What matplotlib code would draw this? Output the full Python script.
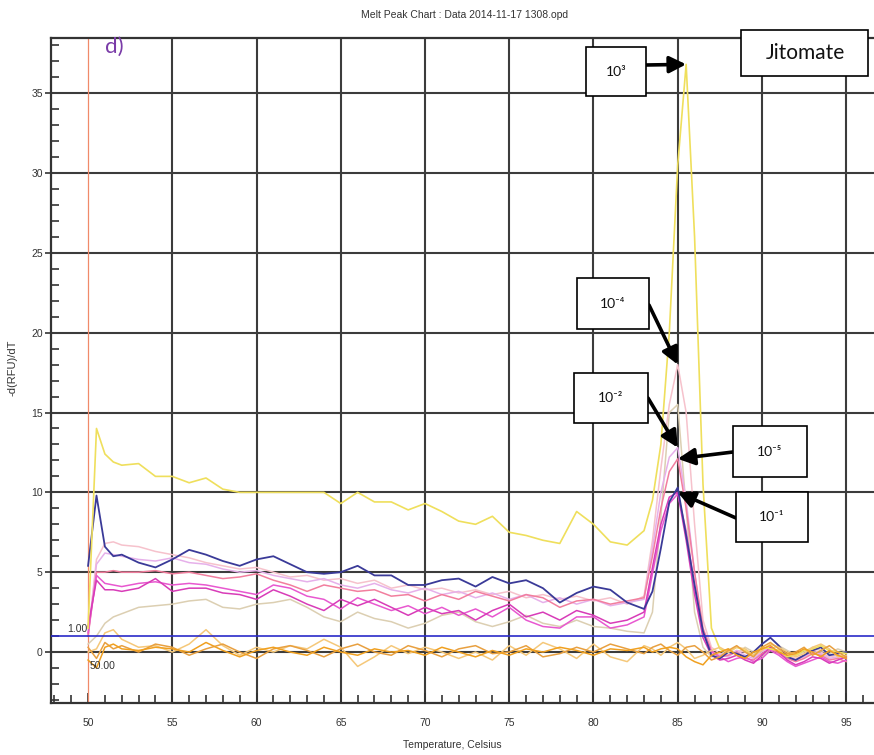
import matplotlib
matplotlib.use('Agg')
import matplotlib.pyplot as plt
from matplotlib.patches import Rectangle
from matplotlib.ticker import MultipleLocator

plt.rcParams['font.family'] = ['Liberation Sans Narrow', 'Liberation Sans', 'DejaVu Sans']

# temperature grid (Celsius)
temps = [50, 50.5, 51, 51.5, 52,
         53, 54, 55, 56, 57, 58, 59, 60, 61, 62,
         63, 64, 65, 66, 67, 68, 69, 70, 71, 72,
         73, 74, 75, 76, 77, 78, 79, 80, 81, 82,
         83,
         83.5, 84, 84.5, 85, 85.5, 86, 86.5, 87, 87.5,
         88, 88.5, 89, 89.5, 90, 90.5, 91, 91.5, 92, 92.5, 93, 93.5, 94, 94.5, 95]

# -d(RFU)/dT for each sample
yellow = [1.5, 14.0, 12.4, 11.9, 11.7,
          11.8, 11.0, 11.0, 10.6, 10.9, 10.2, 10.0, 10.0, 10.0, 10.0,
          10.0, 10.0, 9.3, 10.0, 9.4, 9.4, 8.9, 9.3, 8.8, 8.2,
          8.0, 8.5, 7.5, 7.3, 7.0, 6.8, 8.8, 8.0, 6.9, 6.7,
          7.6,
          9.5, 13.0, 20.0, 30.5, 36.8, 26.0, 10.5, 1.5, 0.2,
          0.0, 0.3, 0.1, -0.2, 0.3, 0.2, 0.1, -0.3, -0.2, 0.1, 0.2, 0.4, 0.1, 0.0, -0.1]
blue = [5.4, 9.8, 6.6, 6.0, 6.1,
        5.6, 5.3, 5.8, 6.4, 6.1, 5.7, 5.4, 5.8, 6.0, 5.5,
        5.0, 4.9, 5.0, 5.4, 4.8, 4.8, 4.2, 4.2, 4.5, 4.6,
        4.1, 4.7, 4.3, 4.5, 4.0, 3.1, 3.7, 4.1, 3.9, 3.1,
        2.7,
        3.8, 6.5, 9.4, 10.3, 7.3, 4.2, 1.3, -0.2, -0.4,
        0.0, -0.1, -0.3, 0.0, 0.5, 0.9, 0.4, -0.3, -0.5, -0.2, 0.1, 0.3, -0.2, -0.1, 0.0]
magenta_a = [1.6, 4.5, 3.9, 3.9, 3.8,
             4.0, 4.6, 3.8, 4.0, 4.0, 3.7, 3.6, 3.3, 3.9, 3.5,
             3.0, 2.6, 3.3, 2.9, 3.3, 2.8, 2.3, 2.8, 2.4, 2.6,
             2.0, 2.6, 3.0, 2.2, 2.5, 2.0, 2.6, 2.3, 1.8, 2.0,
             2.5,
             5.3, 8.0, 9.7, 10.0, 7.0, 3.6, 0.9, -0.2, -0.5,
             -0.4, -0.2, -0.5, -0.7, -0.2, 0.3, 0.0, -0.5, -0.8, -0.6, -0.3, -0.4, -0.7, -0.5, -0.3]
magenta_b = [1.2, 4.8, 4.3, 4.2, 4.1,
             4.3, 4.4, 4.2, 4.3, 4.2, 4.0, 3.8, 3.6, 4.2, 4.0,
             3.5, 3.3, 2.7, 3.4, 3.0, 2.6, 2.9, 2.4, 2.8, 2.3,
             2.7, 2.2, 2.8, 2.0, 1.6, 1.5, 2.2, 2.2, 1.5, 1.7,
             2.2,
             4.9, 7.6, 9.3, 9.9, 7.6, 4.1, 1.2, 0.0, -0.3,
             -0.6, -0.4, -0.3, -0.6, -0.4, 0.1, -0.2, -0.6, -0.9, -0.7, -0.5, -0.3, -0.6, -0.7, -0.5]
pink = [1.0, 5.0, 5.0, 5.1, 5.0,
        5.0, 5.1, 4.9, 5.0, 4.8, 4.6, 4.7, 4.9, 4.5, 4.2,
        3.8, 4.2, 4.0, 3.8, 3.9, 3.5, 3.6, 3.2, 3.6, 3.3,
        3.8, 3.5, 3.2, 3.6, 3.4, 2.8, 3.2, 3.3, 3.0, 3.2,
        3.4,
        6.0, 9.0, 11.3, 12.1, 9.0, 5.0, 1.5, 0.1, -0.3,
        -0.2, 0.0, -0.4, -0.5, -0.1, 0.2, -0.1, -0.4, -0.6, -0.4, -0.1, -0.2, -0.5, -0.4, -0.6]
violet = [1.0, 5.5, 6.2, 6.1, 6.0,
          5.8, 5.7, 5.9, 5.6, 5.5, 5.2, 5.0, 5.1, 4.8, 4.6,
          4.4, 4.6, 4.2, 4.0, 4.3, 3.9, 3.7, 4.0, 3.6, 3.8,
          3.4, 3.7, 3.3, 3.6, 3.1, 3.4, 3.0, 3.3, 2.9, 3.1,
          3.3,
          6.5, 10.0, 12.2, 12.8, 9.5, 5.0, 1.2, 0.0, -0.2,
          -0.3, 0.1, -0.2, -0.4, 0.0, 0.3, 0.0, -0.3, -0.5, -0.3, 0.0, -0.1, -0.4, -0.3, -0.4]
pale_pink = [1.0, 5.8, 6.8, 6.9, 6.7,
             6.6, 6.3, 6.1, 5.9, 5.6, 5.4, 5.2, 5.3, 5.0, 4.7,
             4.8, 4.5, 4.6, 4.3, 4.5, 4.0, 4.2, 3.9, 4.0, 3.7,
             3.9, 3.6, 3.8, 3.4, 3.6, 3.3, 3.5, 3.2, 3.4, 3.0,
             3.5,
             7.0, 11.5, 15.5, 18.0, 15.0, 8.0, 2.0, 0.3, -0.1,
             -0.2, 0.1, 0.0, -0.3, 0.1, 0.2, 0.1, -0.2, -0.4, -0.2, 0.1, 0.0, -0.3, -0.2, -0.3]
tan = [0.5, 1.0, 1.8, 2.2, 2.4,
       2.8, 2.9, 3.0, 3.2, 3.3, 2.8, 2.7, 3.0, 3.1, 3.3,
       2.8, 2.2, 1.9, 2.5, 2.1, 1.9, 1.5, 1.8, 2.3, 2.5,
       1.9, 1.6, 1.9, 2.3, 1.8, 1.6, 2.0, 1.6, 1.5, 1.3,
       1.2,
       2.5, 8.5, 15.0, 15.5, 9.0, 2.5, 0.3, -0.3, -0.2,
       0.2, -0.1, 0.3, 0.0, -0.3, 0.2, 0.4, 0.1, -0.2, 0.0, 0.3, 0.1, -0.1, 0.2, 0.0]
orange_a = [-0.5, -1.0, 0.3, 0.5, 0.2,
            0.1, 0.3, 0.2, 0.0, 0.6, 0.1, -0.3, 0.1, 0.3, 0.0,
            -0.2, 0.3, 0.0, -0.2, 0.2, 0.0, 0.1, -0.2, 0.3, 0.0,
            -0.3, 0.1, -0.2, 0.2, 0.0, 0.3, 0.1, -0.2, 0.2, 0.1,
            0.3,
            0.0, 0.2, 0.3, 0.2, -0.3, -0.6, -0.8, -0.2, 0.0,
            0.2, -0.2, -0.4, 0.0, 0.2, 0.4, 0.0, -0.2, -0.1, 0.2, 0.0, -0.3, 0.1, -0.2, -0.4]
orange_b = [0.0, 0.2, 1.2, 1.4, 0.8,
            0.3, 0.4, 0.0, 0.5, 1.4, 0.4, -0.2, 0.3, 0.0, 0.4,
            0.2, 0.8, 0.3, -0.9, -0.3, 0.4, -0.1, 0.3, 0.0, -0.4,
            0.0, -0.5, 0.4, -0.2, 0.6, 0.2, -0.4, 0.5, -0.3, -0.6,
            0.4,
            0.2, -0.2, 0.3, 0.6, 0.2, -0.4, -0.2, 0.1, 0.3,
            0.0, 0.3, 0.2, -0.2, 0.1, 0.5, 0.3, 0.0, -0.3, -0.1, 0.3, 0.5, 0.2, -0.3, -0.2]
orange_c = [0.3, -0.4, 0.6, 0.2, 0.4,
            0.0, 0.5, 0.3, -0.2, 0.2, 0.5, 0.0, -0.4, 0.2, 0.4,
            0.1, -0.3, 0.2, 0.5, 0.0, -0.2, 0.4, 0.1, -0.3, 0.2,
            0.4, -0.1, 0.0, 0.4, -0.3, -0.1, 0.3, 0.0, 0.5, 0.2,
            -0.1,
            0.3, 0.5, 0.1, -0.2, 0.3, 0.4, 0.0, -0.5, -0.3,
            0.1, 0.4, 0.0, -0.3, 0.3, 0.6, 0.2, -0.1, 0.0, 0.3, -0.2, 0.1, 0.4, 0.0, -0.3]

threshold = 1.00
begin_temp = 50.00
x_ticks = [50, 55, 60, 65, 70, 75, 80, 85, 90, 95]
y_ticks = [0, 5, 10, 15, 20, 25, 30, 35]

fig = plt.figure(figsize=(8.74, 7.55), dpi=100)
ax = fig.add_axes([51 / 874, 52 / 755, 823 / 874, 665 / 755])
ax.set_xlim(47.8, 96.65)
ax.set_ylim(-3.19, 38.45)

# grid (none at 50: the begin-temperature marker sits there)
for t in x_ticks[1:]:
    ax.axvline(t, color='#3c3c3c', lw=1.5, zorder=1)
for v in y_ticks:
    ax.axhline(v, color='#3c3c3c', lw=1.5, zorder=1)
ax.axvline(begin_temp, color='#f08a6a', lw=0.9, zorder=2)
ax.axhline(threshold, color='#2a2ac8', lw=1.2, zorder=4)

ax.plot(temps, tan, color='#dccfb2', lw=1.1, zorder=3)
ax.plot(temps, pale_pink, color='#f6c2cc', lw=1.1, zorder=3)
ax.plot(temps, violet, color='#e6b0ea', lw=1.1, zorder=3)
ax.plot(temps, pink, color='#f27e9e', lw=1.1, zorder=3)
ax.plot(temps, magenta_b, color='#e858d0', lw=1.1, zorder=3)
ax.plot(temps, magenta_a, color='#d83cb8', lw=1.1, zorder=3)
ax.plot(temps, blue, color='#3a3a98', lw=1.3, zorder=3)
ax.plot(temps, yellow, color='#efdf5c', lw=1.2, zorder=3)
ax.plot(temps, orange_b, color='#f5c87a', lw=1.1, zorder=3)
ax.plot(temps, orange_c, color='#e8a040', lw=1.1, zorder=3)
ax.plot(temps, orange_a, color='#f0a020', lw=1.1, zorder=3)

ax.set_xticks(x_ticks)
ax.set_yticks(y_ticks)
ax.xaxis.set_minor_locator(MultipleLocator(1))
ax.yaxis.set_minor_locator(MultipleLocator(1))
ax.tick_params(axis='x', which='major', direction='in', length=7, width=1.2,
               color='#333333', labelsize=7.5, labelcolor='#333333', pad=11)
ax.tick_params(axis='y', which='major', direction='out', length=4, width=1.2,
               color='#333333', labelsize=7.5, labelcolor='#333333', pad=2)
ax.tick_params(which='minor', direction='in', length=6, width=1.2, color='#333333')
for side in ['left', 'bottom', 'top']:
    ax.spines[side].set_color('#333333')
    ax.spines[side].set_linewidth(1.6)
ax.spines['right'].set_visible(False)

ax.text(begin_temp - 0.05, threshold + 0.15, '{:.2f}'.format(threshold),
        ha='right', va='bottom', fontsize=7.5, color='#333333', zorder=5)
ax.text(begin_temp + 0.1, -0.55, '{:.2f}'.format(begin_temp),
        ha='left', va='top', fontsize=7.5, color='#333333', zorder=5)

fig.text(465 / 874, 1 - 15 / 755, 'Melt Peak Chart : Data 2014-11-17 1308.opd',
         ha='center', va='center', fontsize=7.5, color='#333333')
fig.text(452 / 874, 1 - 745 / 755, 'Temperature, Celsius',
         ha='center', va='center', fontsize=7.5, color='#333333')
fig.text(13 / 874, 1 - 368 / 755, '-d(RFU)/dT', rotation=90,
         ha='center', va='center', fontsize=8, color='#333333')

fig.text(114 / 874, 1 - 47 / 755, 'd)', ha='center', va='center',
         fontsize=16, color='#7a3ca8', family=['Lato', 'DejaVu Sans'])

# Jitomate label box
fig.add_artist(Rectangle((741 / 874, 679 / 755), 127 / 874, 46 / 755,
                         transform=fig.transFigure, facecolor='white',
                         edgecolor='black', lw=1.2, zorder=10))
fig.text(805 / 874, 702 / 755, 'Jitomate', ha='center', va='center',
         fontsize=15, color='#111111', family=['Lato', 'DejaVu Sans'], zorder=11)

# dilution labels: (text, series, box left, box bottom, w, h, arrow tail x, y) in figure pixels
labels = [
    ('10³', yellow, 586, 659, 60, 49, 646, 690),
    ('10⁻⁴', pale_pink, 577, 426, 72, 51, 649, 450),
    ('10⁻²', violet, 574, 332, 74, 50, 648, 357),
    ('10⁻⁵', pink, 733, 278, 74, 51, 733, 303),
    ('10⁻¹', magenta_a, 736, 213, 72, 50, 736, 237),
]
for txt, series, bx, by, bw, bh, tx, ty in labels:
    fig.add_artist(Rectangle((bx / 874, by / 755), bw / 874, bh / 755,
                             transform=fig.transFigure, facecolor='white',
                             edgecolor='black', lw=1.2, zorder=10))
    fig.text((bx + bw / 2) / 874, (by + bh / 2) / 755, txt, ha='center', va='center',
             fontsize=10, color='#111111', family=['Lato', 'DejaVu Sans'], zorder=11)
    peak = max(series)
    px = temps[series.index(peak)]
    ax.annotate('', xy=(px, peak), xycoords='data', xytext=(tx, ty),
                textcoords='figure pixels', zorder=12,
                arrowprops=dict(arrowstyle='-|>,head_length=0.5,head_width=0.25',
                                mutation_scale=20, lw=2.6, color='black',
                                shrinkA=0, shrinkB=0))

fig.savefig('out.png', dpi=100)
